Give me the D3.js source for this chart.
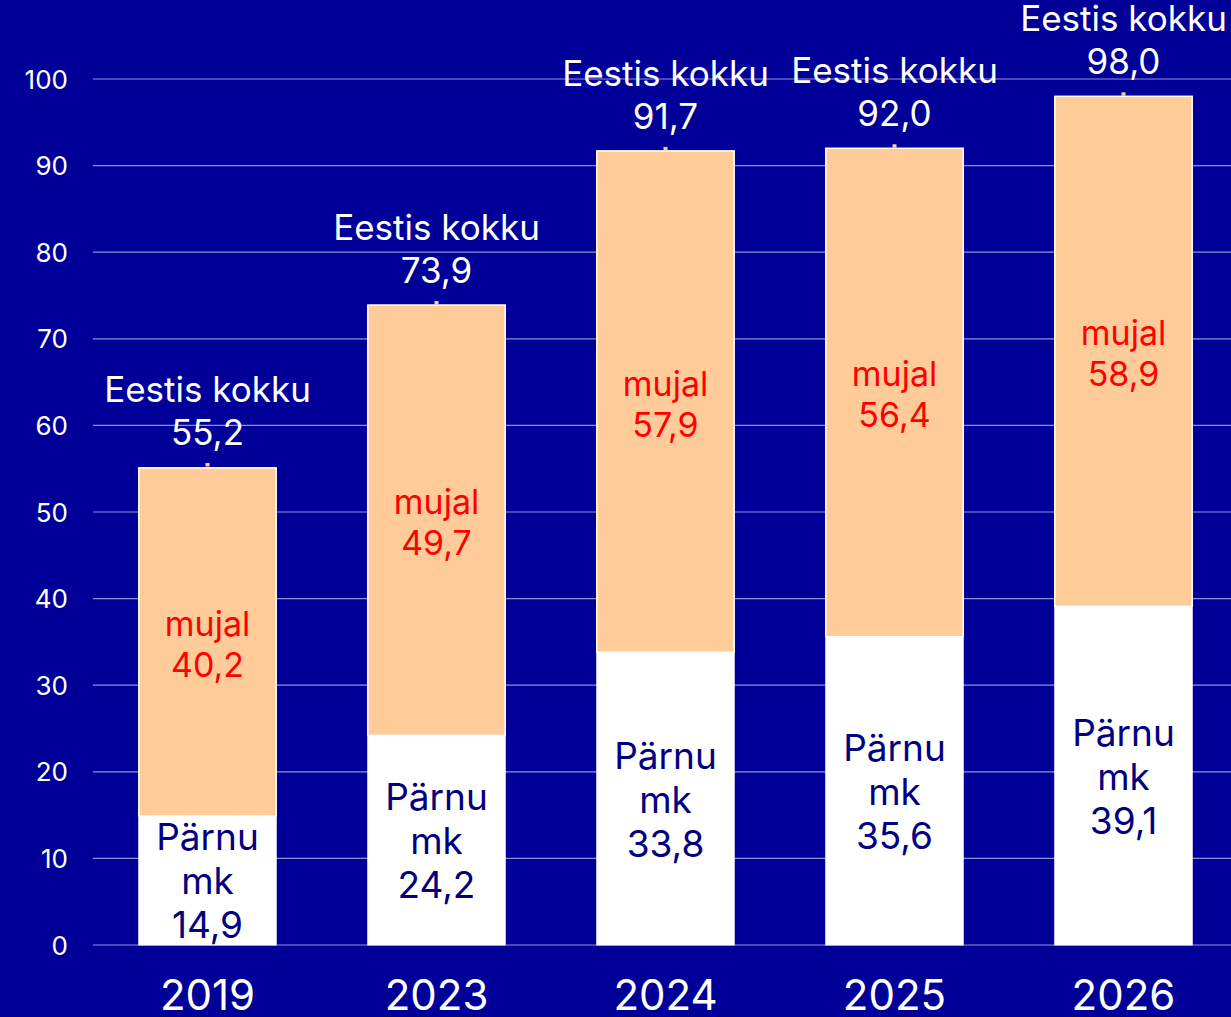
<!DOCTYPE html>
<html><head><meta charset="utf-8">
<script src="https://cdn.jsdelivr.net/npm/d3@7"></script>
<style>html,body{margin:0;padding:0;background:#000099;}svg{display:block;}</style>
</head><body>
<script>
const years = ["2019","2023","2024","2025","2026"];
const parnu = [14.9,24.2,33.8,35.6,39.1];
const mujal = [40.2,49.7,57.9,56.4,58.9];
const total = [55.2,73.9,91.7,92.0,98.0];
const yTicks = [0,10,20,30,40,50,60,70,80,90,100];
const fmt = v => v.toFixed(1).replace(".", ",");

const W = 1231, H = 1017;
const FONT = "Inter, 'Open Sans', sans-serif";
const svg = d3.select("body").append("svg").attr("width", W).attr("height", H)
  .style("background", "#000099");

const x = d3.scaleBand().domain(years).range([93, 1238]).paddingInner(0.4).paddingOuter(0.2);
const y = d3.scaleLinear().domain([0, 100]).range([945, 79]);

// gridlines
svg.append("g").selectAll("line").data(yTicks).join("line")
  .attr("x1", 93).attr("x2", W).attr("y1", d => y(d)).attr("y2", d => y(d))
  .attr("stroke", "#8f8fd6").attr("stroke-width", 1.2);

// y tick labels
svg.append("g").selectAll("text").data(yTicks).join("text")
  .attr("x", 68).attr("y", d => y(d) + 9.5).attr("text-anchor", "end")
  .attr("fill", "#fff").attr("font-family", FONT).attr("font-size", 26)
  .text(d => d);

const g = svg.append("g");
years.forEach((yr, i) => {
  const bx = x(yr), bw = x.bandwidth(), cx = bx + bw / 2;
  // Pärnu segment
  g.append("rect").attr("x", bx).attr("y", y(parnu[i])).attr("width", bw)
    .attr("height", y(0) - y(parnu[i])).attr("fill", "#fff").attr("stroke", "#fff");
  // mujal segment
  g.append("rect").attr("x", bx).attr("y", y(parnu[i] + mujal[i])).attr("width", bw)
    .attr("height", y(parnu[i]) - y(parnu[i] + mujal[i])).attr("fill", "#ffcc99")
    .attr("stroke", "#fff").attr("stroke-width", 1.5);
  // small total marker
  g.append("rect").attr("x", cx - 2).attr("y", y(total[i]) - 4).attr("width", 4).attr("height", 3.5)
    .attr("fill", "#ffcc99");

  // Pärnu labels
  const pm = (y(0) + y(parnu[i])) / 2 + 14;
  ["Pärnu", "mk", fmt(parnu[i])].forEach((t, k) => {
    g.append("text").attr("x", cx).attr("y", pm + (k - 1) * 44).attr("text-anchor", "middle")
      .attr("fill", "#000080").attr("font-family", FONT).attr("font-size", 37).text(t);
  });
  // mujal labels
  const mm = (y(parnu[i]) + y(parnu[i] + mujal[i])) / 2;
  ["mujal", fmt(mujal[i])].forEach((t, k) => {
    g.append("text").attr("x", cx).attr("y", mm - 6 + k * 41).attr("text-anchor", "middle")
      .attr("fill", "#ff0000").attr("font-family", FONT).attr("font-size", 34).text(t);
  });
  // total labels
  const ty = y(total[i]);
  g.append("text").attr("x", cx).attr("y", ty - 22).attr("text-anchor", "middle")
    .attr("fill", "#fff").attr("font-family", FONT).attr("font-size", 35).text(fmt(total[i]));
  g.append("text").attr("x", cx).attr("y", ty - 65).attr("text-anchor", "middle")
    .attr("fill", "#fff").attr("font-family", FONT).attr("font-size", 35).text("Eestis kokku");
  // x label
  g.append("text").attr("x", cx).attr("y", 1010).attr("text-anchor", "middle")
    .attr("fill", "#fff").attr("font-family", FONT).attr("font-size", 42).text(yr);
});
</script>
</body></html>
